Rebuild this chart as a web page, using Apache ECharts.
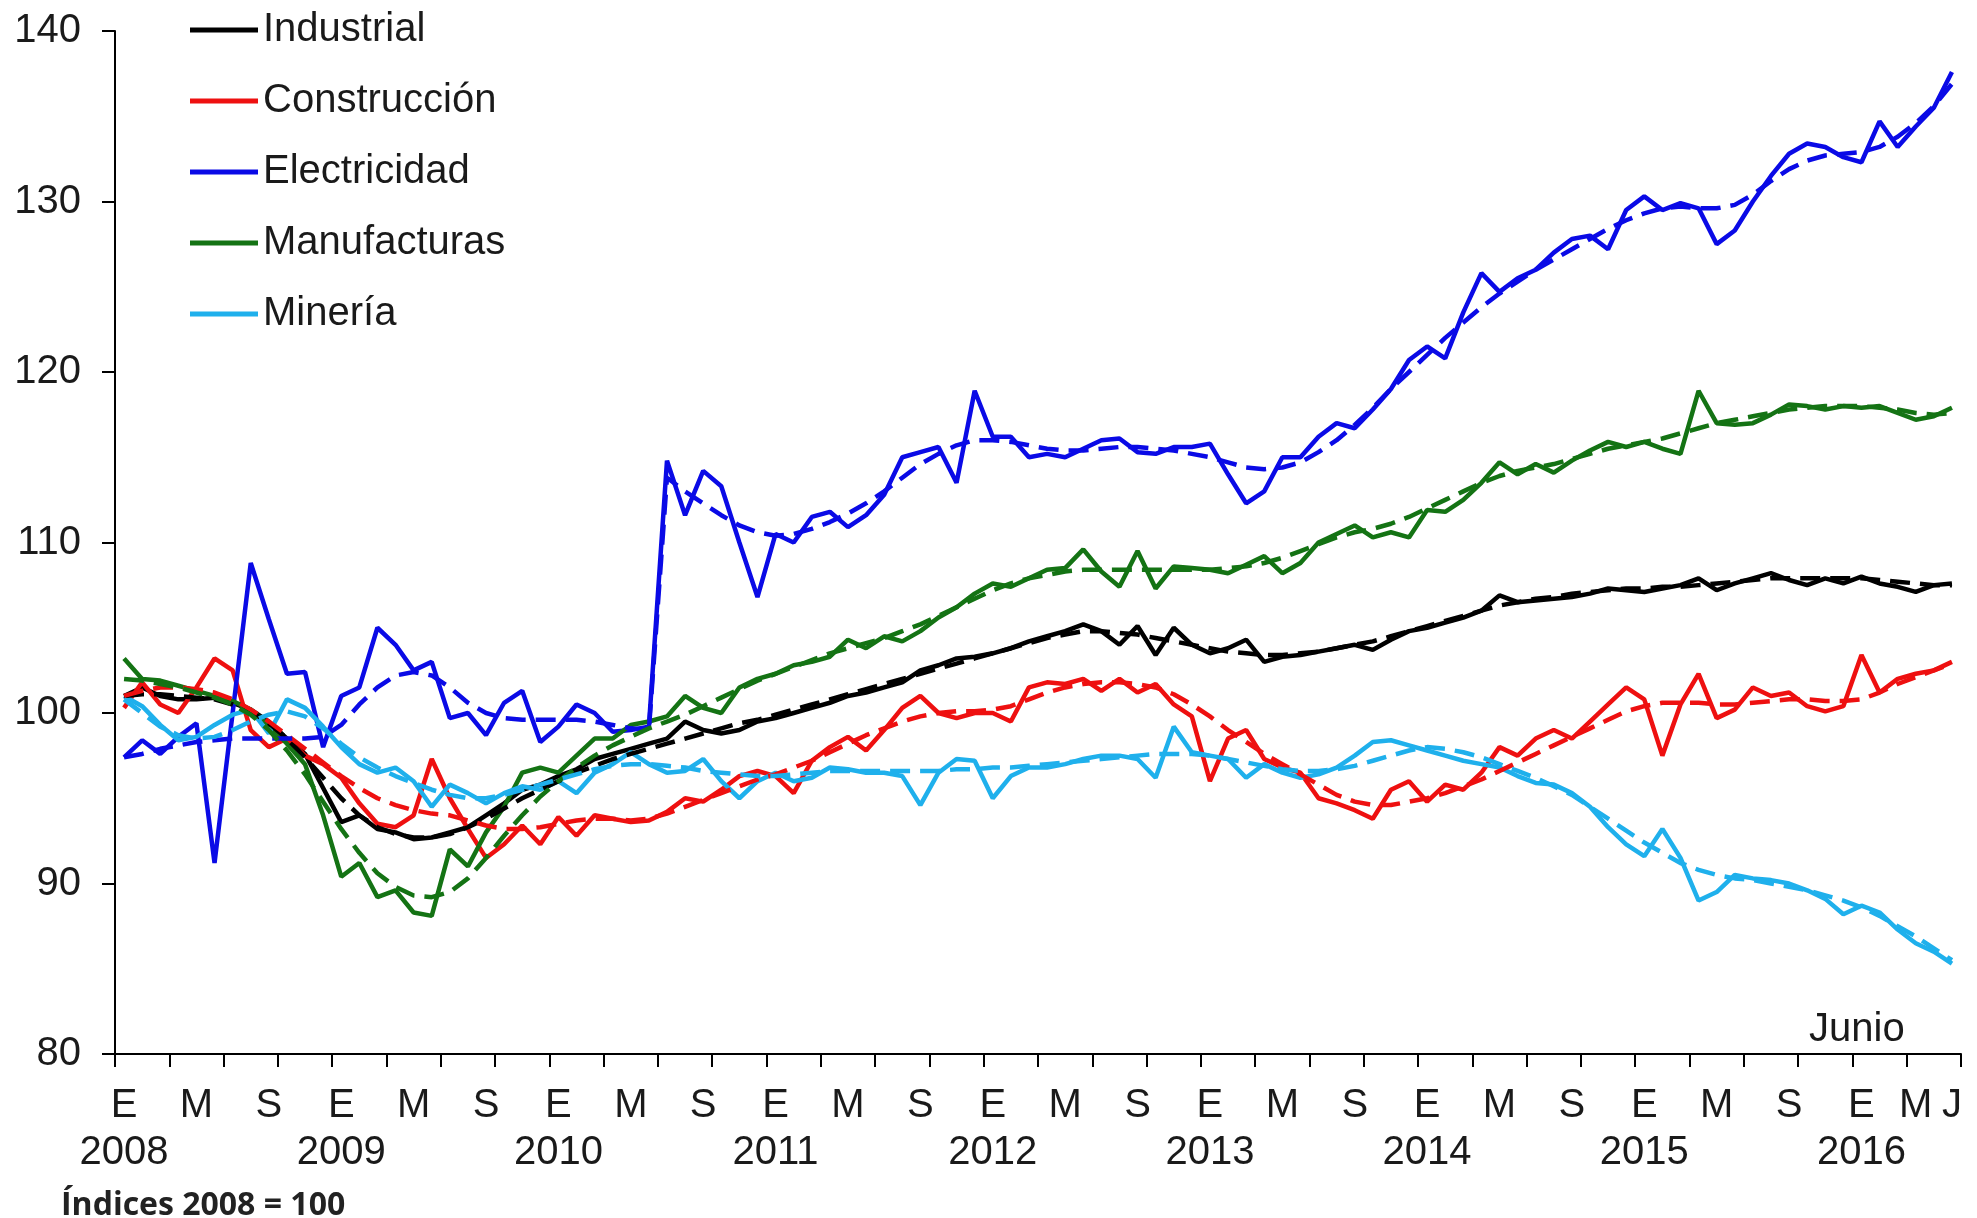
<!DOCTYPE html>
<html>
<head>
<meta charset="utf-8">
<script src="https://cdn.jsdelivr.net/npm/echarts@6/dist/echarts.min.js"></script>
<style>
  html, body { margin: 0; padding: 0; background: #fff; }
  #chart { width: 1977px; height: 1218px; }
</style>
</head>
<body>
<div id="chart"></div>
<script>
// ---- Data (monthly, Jan 2008 – Jun 2016) ----
const years = [2008, 2009, 2010, 2011, 2012, 2013, 2014, 2015, 2016];
const monthNames = ['Ene','Feb','Mar','Abr','May','Jun','Jul','Ago','Sep','Oct','Nov','Dic'];
const lastMonthCount2016 = 6;

// x tick labels (index -> text)
const tickLabelIndex = [0,4,8, 12,16,20, 24,28,32, 36,40,44, 48,52,56, 60,64,68, 72,76,80, 84,88,92, 96,99,101];
const tickLabelText  = ['E\n2008','M','S','E\n2009','M','S','E\n2010','M','S','E\n2011','M','S',
                        'E\n2012','M','S','E\n2013','M','S','E\n2014','M','S','E\n2015','M','S',
                        'E\n2016','M','J'];

const industrial = [
  101.0,101.5,101.0,100.8,100.8,100.9,100.6,100.2,99.5,98.5,97.6,95.6,
  93.6,94.0,93.2,93.0,92.6,92.7,93.0,93.3,94.0,94.7,95.5,95.8,
  96.3,96.7,97.3,97.6,97.9,98.2,98.5,99.5,99.0,98.8,99.0,99.5,
  99.7,100.0,100.3,100.6,101.0,101.2,101.5,101.8,102.5,102.8,103.2,103.3,
  103.5,103.8,104.2,104.5,104.8,105.2,104.8,104.0,105.1,103.4,105.0,104.0,
  103.5,103.8,104.3,103.0,103.3,103.4,103.6,103.8,104.0,103.7,104.3,104.8,
  105.0,105.3,105.6,106.0,106.9,106.5,106.6,106.7,106.8,107.0,107.3,107.2,
  107.1,107.3,107.5,107.9,107.2,107.6,107.9,108.2,107.8,107.5,107.9,107.6,
  108.0,107.6,107.4,107.1,107.5,107.6
];
const industrialTrend = [
  101.0,101.1,101.1,101.0,100.9,100.8,100.5,100.1,99.4,98.5,97.4,96.2,
  95.0,94.0,93.3,92.9,92.7,92.7,92.9,93.3,93.8,94.4,95.0,95.5,
  96.0,96.5,96.9,97.3,97.6,97.9,98.2,98.5,98.8,99.1,99.4,99.6,
  99.9,100.2,100.5,100.8,101.1,101.4,101.7,102.0,102.3,102.6,102.9,103.2,
  103.5,103.8,104.1,104.4,104.6,104.8,104.8,104.7,104.6,104.4,104.2,104.0,
  103.8,103.6,103.5,103.4,103.4,103.5,103.6,103.8,104.0,104.2,104.5,104.8,
  105.1,105.4,105.7,106.0,106.3,106.5,106.7,106.8,107.0,107.1,107.2,107.3,
  107.3,107.4,107.4,107.5,107.6,107.7,107.8,107.9,107.9,107.9,107.9,107.9,
  107.9,107.8,107.7,107.6,107.5,107.5
];
const construccion = [
  100.3,101.8,100.5,100.0,101.5,103.2,102.5,99.0,98.0,98.5,97.5,97.0,
  96.2,94.7,93.5,93.3,94.0,97.3,95.0,93.2,91.5,92.3,93.4,92.3,
  93.9,92.8,94.0,93.8,93.6,93.7,94.2,95.0,94.8,95.5,96.3,96.6,
  96.3,95.3,97.2,98.0,98.6,97.8,99.0,100.3,101.0,100.0,99.7,100.0,
  100.0,99.5,101.5,101.8,101.7,102.0,101.3,102.0,101.2,101.7,100.5,99.8,
  96.0,98.5,99.0,97.3,96.8,96.5,95.0,94.7,94.3,93.8,95.5,96.0,
  94.8,95.8,95.5,96.5,98.0,97.5,98.5,99.0,98.5,99.5,100.5,101.5,
  100.8,97.5,100.5,102.3,99.7,100.2,101.5,101.0,101.2,100.4,100.1,100.4,
  103.4,101.2,102.0,102.3,102.5,103.0
];
const construccionTrend = [
  101.0,101.3,101.5,101.5,101.4,101.2,100.8,100.2,99.5,98.7,97.9,97.1,
  96.3,95.6,95.0,94.6,94.3,94.1,94.0,93.7,93.4,93.2,93.2,93.3,
  93.5,93.7,93.8,93.8,93.7,93.8,94.1,94.5,94.9,95.3,95.7,96.1,
  96.4,96.8,97.2,97.7,98.2,98.7,99.1,99.5,99.8,100.0,100.1,100.1,
  100.2,100.4,100.8,101.2,101.5,101.7,101.8,101.8,101.7,101.5,101.1,100.5,
  99.8,99.0,98.3,97.6,97.0,96.4,95.8,95.2,94.8,94.6,94.6,94.8,
  95.0,95.3,95.7,96.1,96.6,97.1,97.6,98.1,98.6,99.1,99.6,100.1,
  100.4,100.6,100.6,100.6,100.5,100.5,100.6,100.7,100.8,100.8,100.7,100.7,
  100.8,101.2,101.7,102.1,102.5,102.9
];
const electricidad = [
  97.4,98.4,97.6,98.6,99.4,91.2,100.0,108.8,105.5,102.3,102.4,98.0,
  101.0,101.5,105.0,104.0,102.5,103.0,99.7,100.0,98.7,100.6,101.3,98.3,
  99.2,100.5,100.0,98.9,99.0,99.2,114.8,111.6,114.2,113.3,110.0,106.8,
  110.5,110.0,111.5,111.8,110.9,111.6,112.8,115.0,115.3,115.6,113.5,118.9,
  116.2,116.2,115.0,115.2,115.0,115.5,116.0,116.1,115.3,115.2,115.6,115.6,
  115.8,114.0,112.3,113.0,115.0,115.0,116.2,117.0,116.7,117.8,119.0,120.7,
  121.5,120.8,123.5,125.8,124.7,125.5,126.0,127.0,127.8,128.0,127.2,129.5,
  130.3,129.5,129.9,129.6,127.5,128.3,130.0,131.5,132.8,133.4,133.2,132.6,
  132.3,134.7,133.2,134.4,135.5,137.6
];
const electricidadTrend = [
  97.4,97.6,97.9,98.1,98.3,98.4,98.5,98.5,98.5,98.5,98.5,98.6,
  99.3,100.5,101.5,102.2,102.4,102.2,101.5,100.6,100.0,99.7,99.6,99.6,
  99.6,99.6,99.5,99.3,99.1,99.0,113.8,113.0,112.3,111.6,111.0,110.6,
  110.4,110.5,110.8,111.2,111.7,112.3,113.0,113.8,114.6,115.2,115.7,116.0,
  116.0,115.9,115.7,115.5,115.4,115.4,115.5,115.6,115.6,115.5,115.4,115.2,
  115.0,114.7,114.4,114.3,114.4,114.7,115.3,116.0,116.9,117.9,119.0,120.0,
  121.0,122.0,122.9,123.8,124.6,125.3,126.0,126.6,127.2,127.8,128.4,128.9,
  129.3,129.6,129.7,129.6,129.6,129.8,130.4,131.2,131.9,132.4,132.7,132.8,
  132.9,133.2,133.8,134.6,135.6,136.9
];
const manufacturas = [
  103.2,102.0,101.9,101.6,101.3,101.0,100.7,100.2,99.3,98.2,97.0,94.0,
  90.4,91.2,89.2,89.6,88.3,88.1,92.0,91.0,93.0,94.5,96.5,96.8,
  96.5,97.5,98.5,98.5,99.3,99.5,99.8,101.0,100.3,100.0,101.5,102.0,
  102.3,102.8,103.0,103.3,104.3,103.8,104.5,104.2,104.8,105.6,106.2,107.0,
  107.6,107.4,107.9,108.4,108.5,109.6,108.3,107.4,109.5,107.3,108.6,108.5,
  108.4,108.2,108.7,109.2,108.2,108.8,110.0,110.5,111.0,110.3,110.6,110.3,
  111.9,111.8,112.5,113.5,114.7,114.0,114.6,114.1,114.8,115.4,115.9,115.6,
  115.9,115.5,115.2,118.9,117.0,116.9,117.0,117.5,118.1,118.0,117.8,118.0,
  117.9,118.0,117.6,117.2,117.4,117.9
];
const manufacturasTrend = [
  102.0,101.9,101.7,101.5,101.2,100.9,100.5,99.9,99.0,97.8,96.4,94.8,
  93.2,91.8,90.6,89.8,89.3,89.2,89.5,90.3,91.5,92.8,94.0,95.1,
  96.0,96.8,97.5,98.1,98.6,99.1,99.5,99.9,100.4,100.9,101.4,101.9,
  102.3,102.7,103.1,103.5,103.8,104.1,104.4,104.8,105.2,105.7,106.2,106.7,
  107.2,107.6,107.9,108.1,108.3,108.4,108.4,108.4,108.4,108.4,108.4,108.4,
  108.4,108.5,108.6,108.8,109.1,109.5,109.9,110.3,110.6,110.8,111.1,111.5,
  112.0,112.5,113.0,113.5,113.9,114.2,114.4,114.6,114.9,115.2,115.5,115.7,
  115.9,116.1,116.4,116.7,117.0,117.2,117.4,117.6,117.8,117.9,118.0,118.0,
  118.0,117.9,117.8,117.6,117.5,117.6
];
const mineria = [
  101.0,100.4,99.3,98.4,98.6,99.3,99.9,100.2,98.8,100.8,100.3,99.2,
  98.0,97.0,96.5,96.8,96.0,94.5,95.8,95.3,94.7,95.3,95.7,95.5,
  96.0,95.3,96.5,97.0,97.7,97.0,96.5,96.6,97.3,96.0,95.0,96.0,
  96.5,96.0,96.2,96.8,96.7,96.5,96.5,96.3,94.6,96.5,97.3,97.2,
  95.0,96.3,96.8,96.8,97.0,97.3,97.5,97.5,97.3,96.2,99.2,97.7,
  97.5,97.3,96.2,97.0,96.5,96.2,96.4,96.8,97.5,98.3,98.4,98.1,
  97.8,97.5,97.2,97.0,96.8,96.3,95.9,95.8,95.3,94.5,93.3,92.3,
  91.6,93.2,91.5,89.0,89.5,90.5,90.3,90.2,90.0,89.6,89.1,88.2,
  88.7,88.3,87.3,86.5,86.0,85.3
];
const mineriaTrend = [
  100.8,100.0,99.2,98.7,98.5,98.6,99.0,99.5,99.9,100.1,99.8,99.1,
  98.2,97.4,96.8,96.3,95.9,95.5,95.2,95.0,95.0,95.2,95.5,95.8,
  96.1,96.4,96.7,96.9,97.0,97.0,96.9,96.8,96.6,96.5,96.4,96.3,
  96.3,96.4,96.5,96.6,96.6,96.6,96.6,96.6,96.6,96.6,96.7,96.7,
  96.8,96.8,96.9,97.0,97.1,97.2,97.3,97.4,97.5,97.6,97.6,97.6,
  97.5,97.3,97.1,96.9,96.7,96.6,96.6,96.7,96.9,97.2,97.5,97.8,
  98.0,97.9,97.7,97.4,97.0,96.6,96.2,95.7,95.2,94.5,93.8,93.1,
  92.4,91.8,91.2,90.8,90.5,90.3,90.2,90.0,89.8,89.6,89.3,89.0,
  88.6,88.1,87.5,86.9,86.2,85.5
];

// ---- Build categories ----
const categories = [];
years.forEach(function (y) {
  const n = (y === 2016) ? lastMonthCount2016 : 12;
  for (let m = 0; m < n; m++) categories.push(monthNames[m] + ' ' + y);
});
const labelMap = {};
tickLabelIndex.forEach(function (idx, k) { labelMap[idx] = tickLabelText[k]; });

const FONT = '"Liberation Sans", Arial, Helvetica, sans-serif';
const TXT = '#1a1a1a';
const FS = 40;
const LW = 4.5;
const DASH = [20, 10];

const colors = {
  Industrial: '#000000',
  'Construcción': '#ee1010',
  Electricidad: '#0a0ae6',
  Manufacturas: '#147314',
  'Minería': '#1fb0ec'
};

function solid(name, data) {
  return { name: name, type: 'line', data: data, symbol: 'none', silent: true, z: 2,
    itemStyle: { color: colors[name] },
    lineStyle: { color: colors[name], width: LW, type: 'solid' } };
}
function dashed(name, data) {
  return { name: name + ' (tendencia)', type: 'line', data: data, symbol: 'none', silent: true, z: 3,
    itemStyle: { color: colors[name] },
    lineStyle: { color: colors[name], width: LW, type: DASH } };
}

const chart = echarts.init(document.getElementById('chart'), null, { renderer: 'canvas' });
chart.setOption({
  animation: false,
  backgroundColor: '#ffffff',
  grid: { left: 115, right: 16, top: 31, bottom: 164, containLabel: false },
  legend: {
    data: ['Industrial', 'Construcción', 'Electricidad', 'Manufacturas', 'Minería'],
    orient: 'vertical', left: 185, top: 5,
    icon: 'rect', itemWidth: 68, itemHeight: 5, itemGap: 31,
    textStyle: { fontSize: FS, color: TXT, fontFamily: FONT, lineHeight: 40 },
    selectedMode: false
  },
  xAxis: {
    type: 'category', data: categories, boundaryGap: true,
    axisLine: { show: true, lineStyle: { color: '#000', width: 2 } },
    axisTick: { show: true, length: 13, lineStyle: { color: '#000', width: 2 },
      interval: function (i) { return i % 3 === 0; } },
    axisLabel: {
      interval: function (i) { return labelMap[i] !== undefined; },
      formatter: function (v, i) { return labelMap[i] || ''; },
      fontSize: FS, lineHeight: 47, color: TXT, fontFamily: FONT, margin: 28
    },
    splitLine: { show: false }
  },
  yAxis: {
    type: 'value', min: 80, max: 140, interval: 10,
    axisLine: { show: true, lineStyle: { color: '#000', width: 2 } },
    axisTick: { show: true, length: 13, lineStyle: { color: '#000', width: 2 } },
    axisLabel: { fontSize: FS, color: TXT, fontFamily: FONT, margin: 34 },
    splitLine: { show: false }
  },
  graphic: [
    { type: 'text', left: 1809, top: 1010,
      style: { text: 'Junio', font: FS + 'px "Liberation Sans", Arial, sans-serif', fill: TXT } },
    { type: 'text', left: 61, top: 1190,
      style: { text: 'Índices 2008 = 100', font: 'bold 32px "Open Sans", sans-serif', fill: '#222' } }
  ],
  series: [
    solid('Industrial', industrial),
    solid('Construcción', construccion),
    solid('Electricidad', electricidad),
    solid('Manufacturas', manufacturas),
    solid('Minería', mineria),
    dashed('Industrial', industrialTrend),
    dashed('Construcción', construccionTrend),
    dashed('Electricidad', electricidadTrend),
    dashed('Manufacturas', manufacturasTrend),
    dashed('Minería', mineriaTrend)
  ]
});
</script>
</body>
</html>
